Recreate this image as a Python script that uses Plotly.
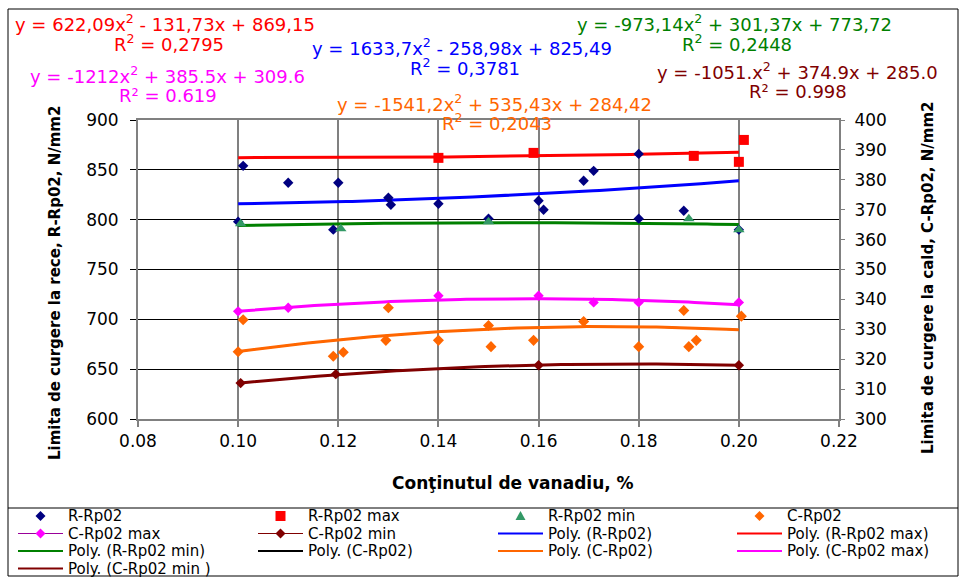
import numpy as np
import plotly.graph_objects as go

# ---- measured values: vanadium content (%) vs. yield strength (N/mm2) ----
# cold yield strength (left axis)
r_x = [0.100, 0.101, 0.110, 0.119, 0.120, 0.130, 0.1305, 0.140, 0.150,
       0.160, 0.161, 0.169, 0.171, 0.180, 0.180, 0.189, 0.200]
r_y = [798, 854, 837, 790, 837, 822, 815, 816, 801,
       819, 810, 839, 849, 866, 801, 809, 790]

rmax_x = [0.140, 0.159, 0.191, 0.200, 0.201]
rmax_y = [862, 867, 864, 858, 880]

rmin_x = [0.1005, 0.1205, 0.150, 0.190, 0.200]
rmin_y = [796, 791, 798, 801, 790]

# hot yield strength (right axis)
c_x = [0.100, 0.101, 0.119, 0.121, 0.130, 0.1295, 0.140, 0.150, 0.1505,
       0.159, 0.169, 0.180, 0.189, 0.1915, 0.190, 0.2005]
c_y = [322.5, 333.2, 321.0, 322.3, 337.2, 326.3, 326.3, 331.3, 324.2,
       326.3, 332.6, 324.2, 336.3, 326.3, 324.2, 334.4]

cmax_x = [0.100, 0.110, 0.140, 0.160, 0.171, 0.180, 0.200]
cmax_y = [336.0, 337.2, 341.2, 341.2, 339.0, 339.0, 339.0]

cmin_x = [0.1005, 0.1195, 0.160, 0.200]
cmin_y = [312.0, 315.0, 318.0, 318.0]

# second-order polynomial trendlines (a*x^2 + b*x + c)
coef_r = [1633.7, -258.98, 825.49]
coef_rmax = [622.09, -131.73, 869.15]
coef_rmin = [-973.14, 301.37, 773.72]
coef_c = [-1541.2, 535.43, 284.42]
coef_cmax = [-1212.0, 385.5, 309.6]
coef_cmin = [-1051.0, 374.9, 285.0]
trend_span = [0.10, 0.20]

# equation labels
eq_texts = [
    "y = 622,09x<sup>2</sup> - 131,73x + 869,15",
    "R<sup>2</sup> = 0,2795",
    "y = 1633,7x<sup>2</sup> - 258,98x + 825,49",
    "R<sup>2</sup> = 0,3781",
    "y = -1212x<sup>2</sup> + 385.5x + 309.6",
    "R² = 0.619",
    "y = -1541,2x<sup>2</sup> + 535,43x + 284,42",
    "R<sup>2</sup> = 0,2043",
    "y = -973,14x<sup>2</sup> + 301,37x + 773,72",
    "R<sup>2</sup> = 0,2448",
    "y = -1051.x<sup>2</sup> + 374.9x + 285.0",
    "R² = 0.998",
]

legend_labels = [
    "R-Rp02", "R-Rp02 max", "R-Rp02 min", "C-Rp02",
    "C-Rp02 max", "C-Rp02 min", "Poly. (R-Rp02)", "Poly. (R-Rp02 max)",
    "Poly. (R-Rp02 min)", "Poly. (C-Rp02)", "Poly. (C-Rp02)", "Poly. (C-Rp02 max)",
    "Poly. (C-Rp02 min )",
]

x_ticks = [0.08, 0.10, 0.12, 0.14, 0.16, 0.18, 0.20, 0.22]
x_title = "Conţinutul de vanadiu, %"
y_title = "Limita de curgere la rece, R-Rp02, N/mm2"
y2_title = "Limita de curgere la cald, C-Rp02, N/mm2"

# ---- styling ----
FONT = "DejaVu Sans"
NAVY, RED, SEA, ORANGE = "#000080", "#FF0000", "#339966", "#FF6600"
MAGENTA, BROWN, BLUE, GREEN = "#FF00FF", "#800000", "#0000FF", "#008000"

W, H = 960, 577
PL, PT, PW, PH = 138, 120, 701, 299


def fx(p):
    return (p - PL) / PW


def fy(p):
    return (PT + PH - p) / PH


fig = go.Figure()


def trend(coef, color, yaxis, width=3):
    xs = np.linspace(trend_span[0], trend_span[1], 80)
    ys = coef[0] * xs ** 2 + coef[1] * xs + coef[2]
    fig.add_trace(go.Scatter(x=xs, y=ys, mode="lines", yaxis=yaxis,
                             line=dict(color=color, width=width),
                             hoverinfo="skip", showlegend=False))


# hot-strength series (right axis): trendlines, then markers on top
trend(coef_c, "black", "y2", width=1.5)
trend(coef_c, ORANGE, "y2")
trend(coef_cmax, MAGENTA, "y2")
trend(coef_cmin, BROWN, "y2")
fig.add_trace(go.Scatter(x=c_x, y=c_y, mode="markers", yaxis="y2",
                         marker=dict(symbol="diamond", size=8.5, color=ORANGE),
                         showlegend=False))
fig.add_trace(go.Scatter(x=cmax_x, y=cmax_y, mode="markers", yaxis="y2",
                         marker=dict(symbol="diamond", size=8, color=MAGENTA),
                         showlegend=False))
fig.add_trace(go.Scatter(x=cmin_x, y=cmin_y, mode="markers", yaxis="y2",
                         marker=dict(symbol="diamond", size=8, color=BROWN),
                         showlegend=False))

# cold-strength series (left axis)
trend(coef_r, BLUE, "y")
trend(coef_rmax, RED, "y")
trend(coef_rmin, GREEN, "y")
fig.add_trace(go.Scatter(x=r_x, y=r_y, mode="markers",
                         marker=dict(symbol="diamond", size=8, color=NAVY),
                         showlegend=False))
fig.add_trace(go.Scatter(x=rmax_x, y=rmax_y, mode="markers",
                         marker=dict(symbol="square", size=10, color=RED),
                         showlegend=False))
fig.add_trace(go.Scatter(x=rmin_x, y=rmin_y, mode="markers",
                         marker=dict(symbol="triangle-up", size=10, color=SEA),
                         showlegend=False))

annotations = []

# trendline equations
eq_colors = [RED, RED, BLUE, BLUE, MAGENTA, MAGENTA, ORANGE, ORANGE,
             GREEN, GREEN, BROWN, BROWN]
eq_pos = [(13, 23), (112, 43), (310, 47), (408, 67), (28, 75), (117, 95),
          (335, 103), (440, 122), (575, 23), (680, 43), (655, 71), (747, 91)]
for txt, col, (px_, py_) in zip(eq_texts, eq_colors, eq_pos):
    annotations.append(dict(text=txt, x=fx(px_), y=fy(py_), xref="paper",
                            yref="paper", xanchor="left", yanchor="middle",
                            showarrow=False,
                            font=dict(family=FONT, size=18, color=col)))

# axis titles
annotations.append(dict(text="<b>%s</b>" % x_title, x=fx(513), y=fy(483),
                        xref="paper", yref="paper", showarrow=False,
                        xanchor="center", yanchor="middle",
                        font=dict(family=FONT, size=17, color="black")))
annotations.append(dict(text="<b>%s</b>" % y_title, x=fx(55), y=fy(283),
                        xref="paper", yref="paper", showarrow=False,
                        textangle=-90, xanchor="center", yanchor="middle",
                        font=dict(family=FONT, size=15, color="black")))
annotations.append(dict(text="<b>%s</b>" % y2_title, x=fx(928), y=fy(278),
                        xref="paper", yref="paper", showarrow=False,
                        textangle=-90, xanchor="center", yanchor="middle",
                        font=dict(family=FONT, size=15, color="black")))

shapes = []

# chart frame and legend box
shapes.append(dict(type="rect", xref="paper", yref="paper",
                   x0=fx(8), x1=fx(958), y0=fy(576), y1=fy(9),
                   line=dict(color="black", width=1)))
shapes.append(dict(type="line", xref="paper", yref="paper",
                   x0=fx(8), x1=fx(958), y0=fy(508), y1=fy(508),
                   line=dict(color="black", width=1)))

# legend
leg_style = [
    ("marker", "diamond", NAVY), ("marker", "square", RED),
    ("marker", "triangle", SEA), ("marker", "diamond", ORANGE),
    ("both", "diamond", MAGENTA), ("both", "diamond", BROWN),
    ("line", None, BLUE), ("line", None, RED),
    ("line", None, GREEN), ("line", None, "black"),
    ("line", None, ORANGE), ("line", None, MAGENTA),
    ("line", None, BROWN),
]
col_x = [18, 258, 498, 737]
row_y = [516, 533.5, 551, 568.5]


def poly(points):
    d = "M " + " L ".join("%f,%f" % (fx(a), fy(b)) for a, b in points) + " Z"
    return d


for i, (label, (kind, sym, col)) in enumerate(zip(legend_labels, leg_style)):
    cx0 = col_x[i % 4]
    cy = row_y[i // 4]
    cx1 = cx0 + 45
    cm = (cx0 + cx1) / 2
    if kind in ("line", "both"):
        line_col = "#990099" if (kind == "both" and col == MAGENTA) else col
        shapes.append(dict(type="line", xref="paper", yref="paper",
                           x0=fx(cx0), x1=fx(cx1), y0=fy(cy), y1=fy(cy),
                           line=dict(color=line_col, width=2 if kind == "line" else 1)))
    if kind in ("marker", "both"):
        r = 5
        if sym == "diamond":
            pts = [(cm, cy - r), (cm + r, cy), (cm, cy + r), (cm - r, cy)]
        elif sym == "square":
            pts = [(cm - r, cy - r), (cm + r, cy - r), (cm + r, cy + r), (cm - r, cy + r)]
        else:
            pts = [(cm, cy - r), (cm + r, cy + r - 1), (cm - r, cy + r - 1)]
        shapes.append(dict(type="path", xref="paper", yref="paper", path=poly(pts),
                           fillcolor=col, line=dict(color=col, width=0)))
    annotations.append(dict(text=label, x=fx(cx1 + 4), y=fy(cy), xref="paper",
                            yref="paper", xanchor="left", yanchor="middle",
                            showarrow=False, borderpad=0,
                            font=dict(family=FONT, size=15, color="black")))

fig.update_layout(
    width=W, height=H,
    margin=dict(l=PL, r=W - PL - PW, t=PT, b=H - PT - PH),
    paper_bgcolor="white", plot_bgcolor="white",
    font=dict(family=FONT, size=17, color="black"),
    showlegend=False,
    xaxis=dict(range=[0.08, 0.22], tickvals=x_ticks, tickformat=".2f",
               showgrid=True, gridcolor="#808080", gridwidth=2,
               showline=True, linecolor="#808080", linewidth=2, mirror=True,
               ticks="outside", ticklen=6, tickcolor="#808080", tickwidth=2,
               zeroline=False, tickfont=dict(size=17)),
    yaxis=dict(range=[600, 900], dtick=50, showgrid=True, gridcolor="black",
               gridwidth=1, showline=True, linecolor="#808080", linewidth=2,
               mirror=True, ticks="outside", ticklen=6, tickcolor="black",
               zeroline=False, tickfont=dict(size=17), ticklabelstandoff=8),
    yaxis2=dict(range=[300, 400], dtick=10, overlaying="y", side="right",
                showgrid=False, showline=False, ticks="outside", ticklen=5,
                tickcolor="#808080", zeroline=False, tickfont=dict(size=17),
                ticklabelstandoff=6),
    annotations=annotations,
    shapes=shapes,
)

fig.write_html("out.html")
